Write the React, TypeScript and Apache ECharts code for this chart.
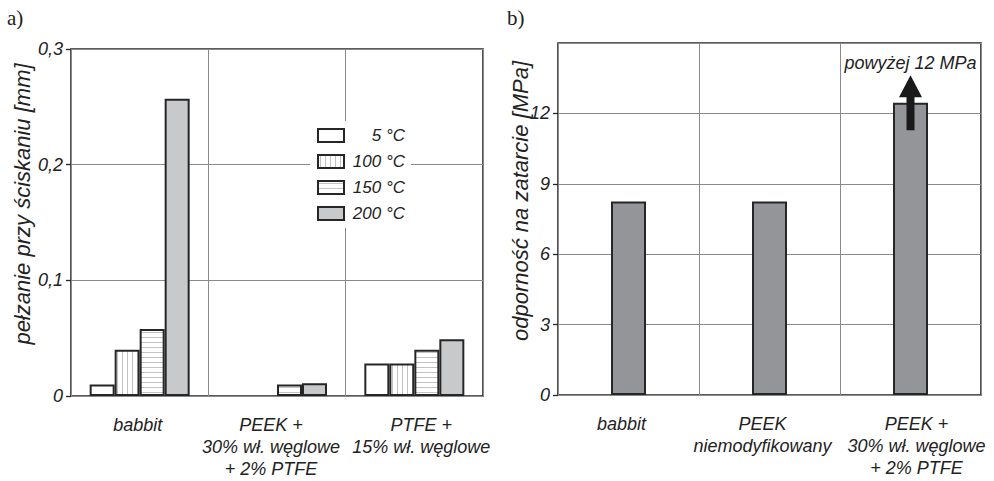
import React, { useEffect, useRef } from "react";
import * as echarts from "echarts";

const FONT = '"Liberation Sans", Arial, Helvetica, sans-serif';
const SERIF = '"Liberation Serif", "Times New Roman", serif';
const INK = "#222";

// Chart a) – creep under compression
const categoriesA = ["babbit", "PEEK +\n30% wł. węglowe\n+ 2% PTFE", "PTFE +\n15% wł. węglowe"];
const temps = ["5 °C", "100 °C", "150 °C", "200 °C"];
const creep5 = [0.01, "-", 0.028];
const creep100 = [0.04, "-", 0.028];
const creep150 = [0.058, 0.01, 0.04];
const creep200 = [0.257, 0.011, 0.049];
const yTicksA = [0, 0.1, 0.2, 0.3];

// Chart b) – seizure resistance
const categoriesB = ["babbit", "PEEK\nniemodyfikowany", "PEEK +\n30% wł. węglowe\n+ 2% PTFE"];
const seizure = [8.25, 8.25, 12.45];
const yTicksB = [0, 3, 6, 9, 12, 15];
const arrowAt = 12.45;

// horizontal label nudges (px, + = right)
const nudgeA = [-2, -6, 7];
const nudgeB = [-7, -7, 6];

function stripeCanvas(vertical: boolean) {
  const c = document.createElement("canvas");
  c.width = 5;
  c.height = 5;
  const ctx = c.getContext("2d")!;
  ctx.fillStyle = "#ffffff";
  ctx.fillRect(0, 0, 5, 5);
  ctx.fillStyle = "#c2c2c2";
  if (vertical) ctx.fillRect(2, 0, 1, 5);
  else ctx.fillRect(0, 2, 5, 1);
  return c;
}

export default function App() {
  const ref = useRef<HTMLDivElement>(null);
  useEffect(() => {
    if (!ref.current) return;
    const chart = echarts.init(ref.current, undefined, { renderer: "svg" });
    const border = { borderColor: "#262626", borderWidth: 2 };
    const fills: any[] = [
      "#ffffff",
      { image: stripeCanvas(true), repeat: "repeat" },
      { image: stripeCanvas(false), repeat: "repeat" },
      "#c8c9cb",
    ];
    const dataA = [creep5, creep100, creep150, creep200];
    const labelStyle = { fontFamily: FONT, fontStyle: "italic", fontSize: 18, color: INK } as any;

    const nudged = (cats: string[], n: number[]) =>
      cats.map((c, i) => ({
        value: c,
        textStyle: { padding: n[i] >= 0 ? [0, 0, 0, 2 * n[i]] : [0, -2 * n[i], 0, 0] },
      }));

    const seriesA = temps.map((t, i) => ({
      name: t,
      type: "bar",
      xAxisIndex: 0,
      yAxisIndex: 0,
      barWidth: 25,
      barGap: "0%",
      data: dataA[i],
      itemStyle: { color: fills[i], ...border },
    }));

    const axisTick = { show: true, length: 5, inside: false, lineStyle: { color: "#262626", width: 1.3 } };
    const split = { show: true, lineStyle: { color: "#8a8a8a", width: 1 } };

    chart.setOption({
      animation: false,
      backgroundColor: "#fff",
      grid: [
        { left: 71, top: 49, width: 412, height: 347, show: true, borderColor: "#262626", borderWidth: 1.6, backgroundColor: "transparent" },
        { left: 558, top: 43, width: 423, height: 352, show: true, borderColor: "#262626", borderWidth: 1.6, backgroundColor: "transparent" },
      ],
      legend: {
        data: temps,
        orient: "vertical",
        left: 310,
        top: 121,
        itemWidth: 26,
        itemHeight: 13,
        itemGap: 9,
        padding: [6, 6, 6, 7],
        backgroundColor: "#fff",
        icon: "rect",
        formatter: (n: string) => `{t|${n}}`,
        textStyle: {
          ...labelStyle,
          fontSize: 17,
          rich: { t: { width: 56, align: "right", fontFamily: FONT, fontStyle: "italic", fontSize: 17, color: INK } },
        },
      },
      xAxis: [
        {
          type: "category",
          gridIndex: 0,
          data: nudged(categoriesA, nudgeA),
          axisLine: { show: false },
          axisTick: { show: false },
          splitLine: { ...split, interval: 0 },
          axisLabel: { ...labelStyle, interval: 0, margin: 18, lineHeight: 22 },
        },
        {
          type: "category",
          gridIndex: 1,
          data: nudged(categoriesB, nudgeB),
          axisLine: { show: false },
          axisTick: { show: false },
          splitLine: { ...split, interval: 0 },
          axisLabel: { ...labelStyle, interval: 0, margin: 18, lineHeight: 22 },
        },
      ],
      yAxis: [
        {
          type: "value",
          gridIndex: 0,
          min: yTicksA[0],
          max: yTicksA[yTicksA.length - 1],
          interval: 0.1,
          axisLine: { show: false },
          axisTick,
          splitLine: split,
          axisLabel: {
            ...labelStyle,
            margin: 8,
            formatter: (v: number) => String(Math.round(v * 10) / 10).replace(".", ","),
          },
        },
        {
          type: "value",
          gridIndex: 1,
          min: yTicksB[0],
          max: yTicksB[yTicksB.length - 1],
          interval: 3,
          axisLine: { show: false },
          axisTick,
          splitLine: split,
          axisLabel: { ...labelStyle, margin: 8, showMaxLabel: false },
        },
      ],
      series: [
        ...seriesA,
        {
          name: "odporność",
          type: "bar",
          xAxisIndex: 1,
          yAxisIndex: 1,
          barWidth: 35,
          data: seizure,
          itemStyle: { color: "#939598", ...border },
          markPoint: {
            silent: true,
            data: [
              {
                coord: [2, arrowAt],
                symbol: "path://M11.5,0 L23,22 L15.5,22 L15.5,55 L7.5,55 L7.5,22 L0,22 Z",
                symbolSize: [23, 55],
                itemStyle: { color: "#1a1a1a", borderWidth: 0 },
                label: {
                  show: true,
                  position: "top",
                  distance: 3,
                  formatter: "powyżej 12 MPa",
                  ...labelStyle,
                },
              },
            ],
          },
        },
      ],
      graphic: [
        {
          type: "text",
          x: 22,
          y: 204,
          rotation: Math.PI / 2,
          style: {
            text: "pełzanie przy ściskaniu [mm]",
            fontFamily: FONT,
            fontStyle: "italic",
            fontSize: 22,
            fill: INK,
            align: "center",
            verticalAlign: "middle",
            textAlign: "center",
            textVerticalAlign: "middle",
          },
        },
        {
          type: "text",
          x: 520,
          y: 201,
          rotation: Math.PI / 2,
          style: {
            text: "odporność na zatarcie [MPa]",
            fontFamily: FONT,
            fontStyle: "italic",
            fontSize: 22,
            fill: INK,
            align: "center",
            verticalAlign: "middle",
            textAlign: "center",
            textVerticalAlign: "middle",
          },
        },
        {
          type: "text",
          x: 7,
          y: 18,
          style: { text: "a)", fontFamily: SERIF, fontSize: 21, fill: INK, verticalAlign: "middle", textVerticalAlign: "middle" },
        },
        {
          type: "text",
          x: 507,
          y: 18,
          style: { text: "b)", fontFamily: SERIF, fontSize: 21, fill: INK, verticalAlign: "middle", textVerticalAlign: "middle" },
        },
      ],
    });
    return () => chart.dispose();
  }, []);
  return <div ref={ref} style={{ position: "absolute", left: 0, top: 0, width: 994, height: 481 }} />;
}
